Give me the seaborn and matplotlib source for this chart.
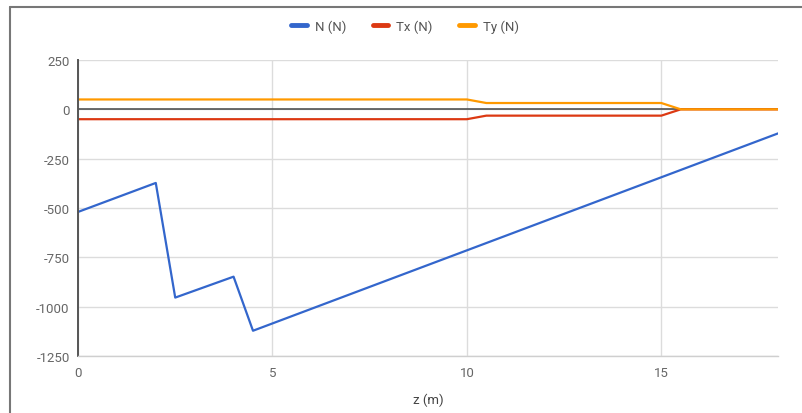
import matplotlib
matplotlib.use("Agg")
import matplotlib.pyplot as plt
from matplotlib.lines import Line2D
import seaborn as sns
import pandas as pd

# Axial force N along the member
n_z = [0, 2, 2.5, 4, 4.5, 18]
n_val = [-520, -373, -954, -848, -1122, -122]

# Shear forces Tx and Ty
t_z = [0, 10, 10.5, 15, 15.5, 18]
tx_val = [-50, -50, -32, -32, 0, 0]
ty_val = [50, 50, 32, 32, 0, 0]

series_names = ["N (N)", "Tx (N)", "Ty (N)"]
colors = ["#3366cc", "#dc3912", "#ff9900"]
x_ticks = [0, 5, 10, 15]
y_ticks = [250, 0, -250, -500, -750, -1000, -1250]

frames = [
    pd.DataFrame({"z": n_z, "value": n_val, "series": series_names[0]}),
    pd.DataFrame({"z": t_z, "value": tx_val, "series": series_names[1]}),
    pd.DataFrame({"z": t_z, "value": ty_val, "series": series_names[2]}),
]
df = pd.concat(frames, ignore_index=True)

sns.set_theme(style="white")
plt.rcParams["font.family"] = ["Roboto", "DejaVu Sans"]

fig = plt.figure(figsize=(8.03, 4.14), dpi=100)
ax = fig.add_axes([78 / 803, 1 - 357 / 414, 700 / 803, 296 / 414])

sns.lineplot(data=df, x="z", y="value", hue="series", hue_order=series_names,
             palette=colors, estimator=None, sort=False, linewidth=1.6,
             legend=False, ax=ax)

ax.set_xlim(0, 18)
ax.set_ylim(-1250, 250)
ax.set_xticks(x_ticks)
ax.set_yticks(y_ticks)
ax.set_xticklabels([str(t) for t in x_ticks])
ax.set_yticklabels([str(t) for t in y_ticks])
ax.grid(True, color="#dcdcdc", linewidth=1.0)
ax.set_axisbelow(True)
ax.axhline(0, color="#444444", linewidth=1.1, zorder=1.5)

for side in ["top", "right"]:
    ax.spines[side].set_visible(False)
ax.spines["bottom"].set_color("#cfcfcf")
ax.spines["bottom"].set_linewidth(1.0)
ax.spines["left"].set_color("#555555")
ax.spines["left"].set_linewidth(1.4)

ax.tick_params(axis="both", length=0, labelsize=9.5, labelcolor="#666666")
ax.tick_params(axis="y", pad=6)
ax.tick_params(axis="x", pad=7)
ax.set_xlabel("z (m)", fontsize=9.5, color="#444444", labelpad=10)
ax.set_ylabel("")

handles = [Line2D([0], [0], color=c, linewidth=3.5) for c in colors]
fig.legend(handles, series_names, loc="center", ncol=3,
           bbox_to_anchor=(405 / 803, 1 - 27 / 414), frameon=False,
           fontsize=9.5, labelcolor="#555555", handlelength=1.2,
           handletextpad=0.6, columnspacing=2.0)

# Outer frame lines along the top and left edges
fig.add_artist(Line2D([10 / 803, 1], [1 - 8 / 414, 1 - 8 / 414],
                      transform=fig.transFigure, color="#777777", linewidth=1.5))
fig.add_artist(Line2D([10 / 803, 10 / 803], [0, 1 - 8 / 414],
                      transform=fig.transFigure, color="#777777", linewidth=1.5))

fig.savefig("out.png", dpi=100)
